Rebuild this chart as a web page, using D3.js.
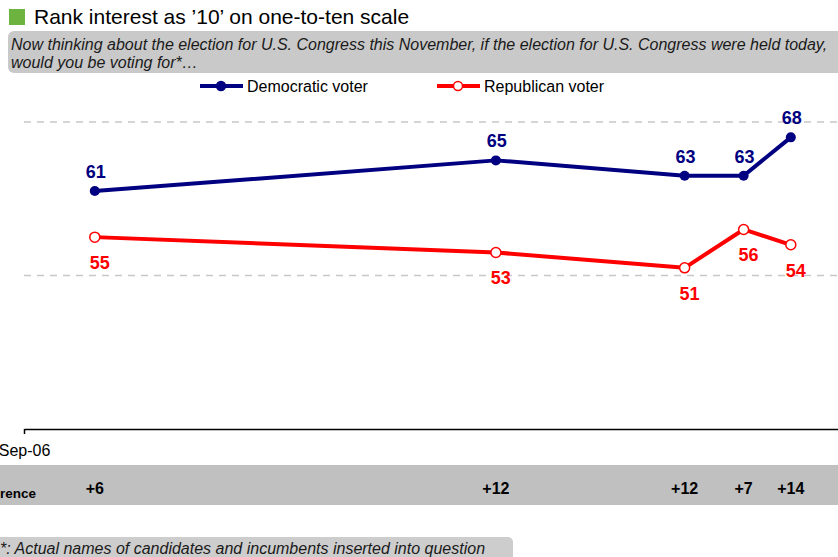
<!DOCTYPE html>
<html>
<head>
<meta charset="utf-8">
<script src="https://cdn.jsdelivr.net/npm/d3@7"></script>
<style>
  body { margin: 0; background: #fff; overflow: hidden; }
  svg { display: block; font-family: Arial, "Liberation Sans", sans-serif; }
</style>
</head>
<body>
<div id="chart"></div>
<script>
// poll dates and share ranking interest as '10'
var dates = ["2006-09-07", "2006-10-11", "2006-10-27", "2006-11-01", "2006-11-05"];
var demValues = [61, 65, 63, 63, 68];
var repValues = [55, 53, 51, 56, 54];
var seriesNames = ["Democratic voter", "Republican voter"];
var gridValues = [50, 70];
var xTickLabels = ["Sep-06"];
var xTickDates = ["2006-09-01"];

var width = 838, height = 557;
var demColor = "#000080", repColor = "#ff0000";
var parse = d3.timeParse("%Y-%m-%d");

var svg = d3.select("#chart").append("svg")
  .attr("width", width)
  .attr("height", height);

var x = d3.scaleTime()
  .domain([parse("2006-09-01"), parse("2006-11-09")])
  .range([24, 838]);

var y = d3.scaleLinear()
  .domain([30, 70])
  .range([429, 122]);

// title
svg.append("rect")
  .attr("x", 9).attr("y", 9)
  .attr("width", 16).attr("height", 16)
  .attr("fill", "#6db33f");
svg.append("text")
  .attr("x", 34).attr("y", 24)
  .style("font-size", "21px")
  .attr("fill", "#000")
  .text("Rank interest as \u201910\u2019 on one-to-ten scale");

// question box
svg.append("rect")
  .attr("x", 8).attr("y", 31)
  .attr("width", 845).attr("height", 42)
  .attr("rx", 6)
  .attr("fill", "#c9c9c9");
svg.append("text")
  .attr("x", 11).attr("y", 50)
  .style("font-size", "16px").style("font-style", "italic")
  .attr("fill", "#1a1a1a")
  .text("Now thinking about the election for U.S. Congress this November, if the election for U.S. Congress were held today,");
svg.append("text")
  .attr("x", 11).attr("y", 68)
  .style("font-size", "16px").style("font-style", "italic")
  .attr("fill", "#1a1a1a")
  .text("would you be voting for*\u2026");

// legend
var legendItems = [
  {name: seriesNames[0], color: demColor, fill: demColor, x: 200},
  {name: seriesNames[1], color: repColor, fill: "#fff", x: 437}
];
legendItems.forEach(function(d) {
  var g = svg.append("g");
  g.append("line")
    .attr("x1", d.x).attr("x2", d.x + 43)
    .attr("y1", 86).attr("y2", 86)
    .attr("stroke", d.color).attr("stroke-width", 4);
  g.append("circle")
    .attr("cx", d.x + 21).attr("cy", 86).attr("r", 4.5)
    .attr("fill", d.fill).attr("stroke", d.color).attr("stroke-width", 1.5);
  g.append("text")
    .attr("x", d.x + 47).attr("y", 92)
    .style("font-size", "16px")
    .attr("fill", "#000")
    .text(d.name);
});

// dashed gridlines
svg.selectAll(".grid").data(gridValues)
  .enter().append("line")
  .attr("class", "grid")
  .attr("x1", 24).attr("x2", width)
  .attr("y1", function(d) { return y(d); })
  .attr("y2", function(d) { return y(d); })
  .attr("stroke", "#c8c8c8")
  .attr("stroke-width", 1.5)
  .attr("stroke-dasharray", "7,6");

// x axis
var xAxis = d3.axisBottom(x)
  .tickValues(xTickDates.map(parse))
  .tickFormat(function(d, i) { return xTickLabels[i]; })
  .tickSize(5)
  .tickSizeOuter(0);
var ax = svg.append("g")
  .attr("transform", "translate(0," + y(30) + ")")
  .call(xAxis);
ax.select(".domain").attr("stroke", "#000").attr("stroke-width", 1.5);
ax.selectAll(".tick line").attr("stroke", "#000").attr("stroke-width", 1.5);
ax.selectAll(".tick text")
  .attr("y", 16)
  .style("font-size", "16px")
  .style("font-family", "Arial, 'Liberation Sans', sans-serif")
  .attr("fill", "#000");

// lines
var line = d3.line()
  .x(function(d) { return x(d.date); })
  .y(function(d) { return y(d.value); });

function series(values) {
  return values.map(function(v, i) { return {date: parse(dates[i]), value: v}; });
}
var dem = series(demValues);
var rep = series(repValues);

svg.append("path").datum(rep)
  .attr("d", line)
  .attr("fill", "none")
  .attr("stroke", repColor)
  .attr("stroke-width", 4)
  .attr("stroke-linejoin", "round");
svg.append("path").datum(dem)
  .attr("d", line)
  .attr("fill", "none")
  .attr("stroke", demColor)
  .attr("stroke-width", 4)
  .attr("stroke-linejoin", "round");

svg.selectAll(".dem-dot").data(dem)
  .enter().append("circle")
  .attr("cx", function(d) { return x(d.date); })
  .attr("cy", function(d) { return y(d.value); })
  .attr("r", 5)
  .attr("fill", demColor);
svg.selectAll(".rep-dot").data(rep)
  .enter().append("circle")
  .attr("cx", function(d) { return x(d.date); })
  .attr("cy", function(d) { return y(d.value); })
  .attr("r", 5)
  .attr("fill", "#fff")
  .attr("stroke", repColor)
  .attr("stroke-width", 1.5);

// data labels
svg.selectAll(".dem-label").data(dem)
  .enter().append("text")
  .attr("x", function(d) { return x(d.date) + 1; })
  .attr("y", function(d) { return y(d.value) - 13; })
  .attr("text-anchor", "middle")
  .style("font-size", "18px").style("font-weight", "bold")
  .attr("fill", demColor)
  .text(function(d) { return d.value; });
svg.selectAll(".rep-label").data(rep)
  .enter().append("text")
  .attr("x", function(d) { return x(d.date) + 5; })
  .attr("y", function(d) { return y(d.value) + 32; })
  .attr("text-anchor", "middle")
  .style("font-size", "18px").style("font-weight", "bold")
  .attr("fill", repColor)
  .text(function(d) { return d.value; });

// difference row
svg.append("rect")
  .attr("x", 0).attr("y", 465)
  .attr("width", width).attr("height", 40)
  .attr("fill", "#c0c0c0");
svg.append("text")
  .attr("x", 36).attr("y", 498)
  .attr("text-anchor", "end")
  .style("font-size", "13.5px").style("font-weight", "bold")
  .attr("fill", "#000")
  .text("Difference");
svg.selectAll(".diff").data(dem)
  .enter().append("text")
  .attr("x", function(d) { return x(d.date); })
  .attr("y", 494)
  .attr("text-anchor", "middle")
  .style("font-size", "16px").style("font-weight", "bold")
  .attr("fill", "#000")
  .text(function(d, i) { return "+" + (d.value - repValues[i]); });

// footnote
svg.append("rect")
  .attr("x", -10).attr("y", 537)
  .attr("width", 523).attr("height", 30)
  .attr("rx", 5)
  .attr("fill", "#cdcdcd");
svg.append("text")
  .attr("x", 0).attr("y", 554)
  .style("font-size", "16px").style("font-style", "italic")
  .attr("fill", "#1a1a1a")
  .text("*: Actual names of candidates and incumbents inserted into question");
</script>
</body>
</html>
